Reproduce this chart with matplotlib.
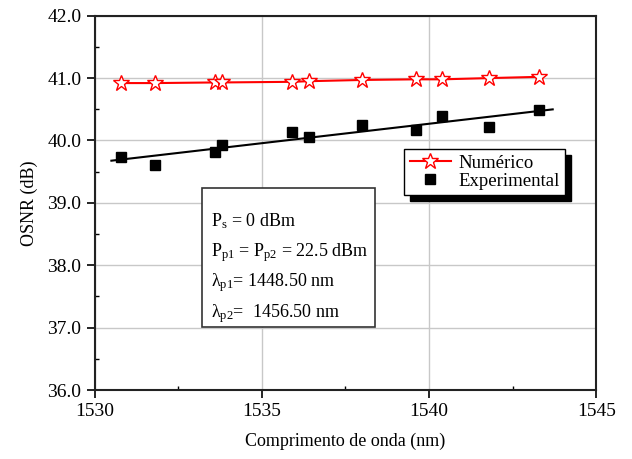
import numpy as np
import matplotlib
matplotlib.use("Agg")
import matplotlib.pyplot as plt
from matplotlib.ticker import MultipleLocator, FormatStrFormatter
from matplotlib.patches import Rectangle

# wavelengths (nm)
wavelengths = [1530.8, 1531.8, 1533.6, 1533.8, 1535.9, 1536.4,
               1538.0, 1539.6, 1540.4, 1541.8, 1543.3]
# simulated OSNR (dB)
osnr_num = [40.92, 40.92, 40.93, 40.93, 40.94, 40.95,
            40.97, 40.98, 40.98, 41.00, 41.02]
# measured OSNR (dB)
osnr_exp = [39.74, 39.60, 39.82, 39.92, 40.14, 40.06,
            40.24, 40.17, 40.39, 40.22, 40.49]
fit_range = [1530.5, 1543.7]

info_lines = [r"$\mathrm{P_s}$ = 0 dBm",
              r"$\mathrm{P_{p1}}$ = $\mathrm{P_{p2}}$ = 22.5 dBm",
              r"$\mathrm{λ_{p1}}$= 1448.50 nm",
              r"$\mathrm{λ_{p2}}$=  1456.50 nm"]

plt.rcParams["font.family"] = ["Liberation Serif", "DejaVu Serif"]
plt.rcParams["mathtext.fontset"] = "custom"
plt.rcParams["mathtext.rm"] = "Liberation Serif"
plt.rcParams["mathtext.it"] = "Liberation Serif:italic"
plt.rcParams["font.size"] = 13

fig = plt.figure(figsize=(6.32, 4.59), dpi=100)
ax = fig.add_axes([0.1498, 0.1503, 0.7935, 0.8155])

ax.plot(wavelengths, osnr_num, color="red", lw=1.5, marker="*", ms=12,
        mfc="white", mec="red", mew=1.0, label="Numérico", zorder=3)

# linear fit of the measured points
coef = np.polyfit(wavelengths, osnr_exp, 1)
xf = np.array(fit_range)
ax.plot(xf, np.polyval(coef, xf), color="black", lw=1.5, zorder=2)
ax.plot(wavelengths, osnr_exp, ls="none", marker="s", ms=6.5, color="black",
        label="Experimental", zorder=3)

ax.set_xlim(1530, 1545)
ax.set_ylim(36, 42)
ax.xaxis.set_major_locator(MultipleLocator(5))
ax.xaxis.set_minor_locator(MultipleLocator(2.5))
ax.yaxis.set_major_locator(MultipleLocator(1))
ax.yaxis.set_minor_locator(MultipleLocator(0.5))
ax.yaxis.set_major_formatter(FormatStrFormatter("%.1f"))
ax.tick_params(which="major", direction="out", length=6, width=1.2,
               labelsize=14, colors="black")
ax.tick_params(which="minor", direction="in", length=3, width=1.0)
ax.grid(True, which="major", color="#c8c8c8", lw=1.0)
ax.set_axisbelow(True)
for s in ax.spines.values():
    s.set_linewidth(1.5)
    s.set_color("#222222")

ax.set_xlabel("Comprimento de onda (nm)", fontsize=13, labelpad=9)
ax.set_ylabel("OSNR (dB)", fontsize=13, labelpad=7)

leg = ax.legend(loc="upper left", bbox_to_anchor=(0.617, 0.644),
                frameon=True, fancybox=False, edgecolor="black",
                framealpha=1, fontsize=13.5, handlelength=2.2,
                borderpad=0.3, labelspacing=0.05, handletextpad=0.4,
                borderaxespad=0,
                shadow={"ox": 4, "oy": -4, "color": "black", "alpha": 1})
leg.get_frame().set_linewidth(1.0)

# parameter box
ax.add_patch(Rectangle((0.214, 0.169), 0.345, 0.370, transform=ax.transAxes,
                       facecolor="white", edgecolor="#333333", lw=1.2,
                       zorder=4))
for txt, yb in zip(info_lines, [0.4363, 0.3561, 0.2760, 0.1942]):
    ax.text(0.231, yb, txt, transform=ax.transAxes, fontsize=13,
            va="baseline", ha="left", zorder=5)

fig.savefig("out.png", dpi=100)
